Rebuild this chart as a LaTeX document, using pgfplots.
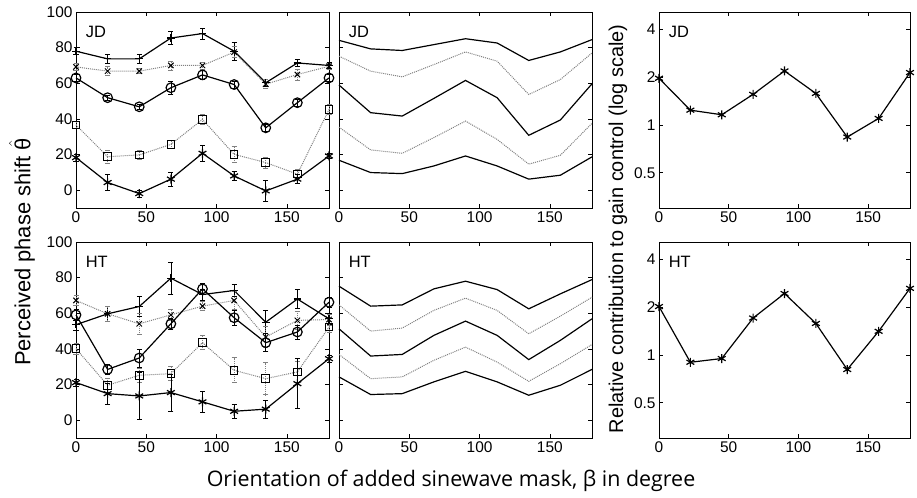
\documentclass[border=0pt]{standalone}
\usepackage{fontspec}
\setmainfont{Liberation Sans}
\newfontfamily\xlabfont{Open Sans}
\usepackage{pgfplots}
\pgfplotsset{compat=1.18}

% ---------- measured phase shifts (x, mean, s.e.) ----------
\pgfplotstableread{
x     a     ea   b     eb   c     ec   d     ed   e     ee
0     78    2    69.2  2    63    2    36.6  2    18.3  2
22.5  73.7  2.5  66.8  2.5  51.9  1.5  18.8  3.5  4.3   4.5
45    73.7  2.5  66.8  1.5  46.8  1.5  19.8  2.5  -1.9  2
67.5  85.4  3.5  70    2.5  57.5  3.5  25.7  2.5  6.2   4
90    87.9  3    70    2    64.7  2.5  39.7  3    20.7  4.5
112.5 78    5    77.5  3    59.3  2    20.1  4.5  8     2.5
135   60.3  2    59.5  2.5  35    2    15.5  3    -0.4  6
157.5 71.4  2    64.9  3    49.1  2    9     2.5  6.2   2.5
180   70    1.5  69.5  1.5  63    2    45.3  3    19.2  1.5
}\dataJD
\pgfplotstableread{
x     a     ea   b     eb   c     ec   d     ed   e     ee
0     53.6  3    67.2  3    59.1  3    40.1  3    21.1  2
22.5  59.7  4    59.7  4    28.5  3    19.6  4    14.9  6
45    63.8  5.5  54.1  6    34.9  5    25.2  4    13.6  13
67.5  79.7  9    59.1  3    54.1  3    26.1  4    15.5  10.5
90    70.5  3    64    2.5  73.7  3    43.5  4    10.3  6
112.5 72.8  3.5  67.2  5    57.5  4    28    7    5     4
135   55    6.5  46.7  6    43.5  5    23.3  9    6.2   5
157.5 68    5.5  56    5    49.5  4    27.1  6    20.5  14
180   56.9  3    56.5  3    66.2  3    52.2  3    34.5  2
}\dataHT

% ---------- model predictions ----------
\pgfplotstableread{
x     a     b     c     d     e
0     84.1  75.2  59    35.4  16.8
22.5  79.3  66.8  43.5  22.6  9.9
45    78.4  63.6  41.6  20.7  9.3
67.5  81.7  70.5  51.5  29.5  13.6
90    85    77.6  61.6  38.8  19.2
112.5 82.6  72.4  51.9  28.5  13.6
135   72.8  53.7  30.8  14.6  6.2
157.5 77.6  62.1  39.4  19.6  8.4
180   84.5  77    59.7  37.5  18.7
}\modelJD
\pgfplotstableread{
x     a     b     c     d     e
0     75.2  64.7  51.3  36.9  24.3
22.5  64    50    36    23.3  14.4
45    64.7  51.7  36.9  24.3  14.9
67.5  73.7  61.6  47.6  33.6  21.5
90    78    68.5  55.6  41    27.4
112.5 73.3  61.6  47.6  32.6  21.5
135   62.5  48.5  34    21.8  14
157.5 70.9  58.4  44.8  31.7  19.6
180   78.9  69    56.9  42.5  28.5
}\modelHT

% ---------- gain-control weights ----------
\pgfplotstableread{
x     jd    ht
0     1.97  2.02
22.5  1.24  0.90
45    1.16  0.95
67.5  1.56  1.71
90    2.19  2.44
112.5 1.58  1.58
135   0.84  0.81
157.5 1.10  1.41
180   2.14  2.63
}\gainData

\tikzset{plab/.style={anchor=west, font=\fontsize{16.5}{16.5}\selectfont}}
\pgfplotsset{
  panel/.style={
    scale only axis, width=253bp, height=196bp,
    xmin=0, xmax=180, xtick={0,50,100,150},
    tick align=inside, major tick length=4bp,
    xtick pos=both, ytick pos=both,
    axis line style={line width=0.9pt},
    tick style={line width=0.6pt, black},
    ticklabel style={font=\fontsize{15.5}{15.5}\selectfont},
    /pgf/number format/assume math mode=true,
    clip=false,
  },
  phasepanel/.style={panel, ymin=-10, ymax=100, ytick={0,20,...,100}},
  weightpanel/.style={panel, width=251bp,
    ymin=0.3, ymax=5.15, ytick={0.5,1,2,4}, yticklabels={0.5,1,2,4}},
  solidS/.style={black, line width=1.2pt},
  dotS/.style={gray, line width=1.0pt, densely dotted},
  ebar/.style={error bars/.cd, y dir=both, y explicit,
    error mark options={rotate=90, mark size=2.5bp, line width=0.7pt},
    error bar style={line width=0.7pt}},
}

\newcommand{\phaseplots}[1]{%
  \addplot[solidS, mark=+, mark size=3.8bp, mark options={solid, black}, ebar]
    table[x=x, y=a, y error=ea] {#1};
  \addplot[dotS, mark=x, mark size=3.8bp, mark options={solid, black}, ebar]
    table[x=x, y=b, y error=eb] {#1};
  \addplot[solidS, mark=o, mark size=4.8bp, mark options={solid, black}, ebar]
    table[x=x, y=c, y error=ec] {#1};
  \addplot[dotS, mark=square, mark size=3.8bp, mark options={solid, black}, ebar]
    table[x=x, y=d, y error=ed] {#1};
  \addplot[solidS, mark=asterisk, mark size=4.5bp, mark options={solid, black}, ebar]
    table[x=x, y=e, y error=ee] {#1};
}
\newcommand{\modelplots}[1]{%
  \addplot[solidS] table[x=x, y=a] {#1};
  \addplot[dotS]   table[x=x, y=b] {#1};
  \addplot[solidS] table[x=x, y=c] {#1};
  \addplot[dotS]   table[x=x, y=d] {#1};
  \addplot[solidS] table[x=x, y=e] {#1};
}

\begin{document}
\begin{tikzpicture}
\useasboundingbox (0bp,0bp) rectangle (917bp,-498bp);

% ---- subject JD ----
\begin{axis}[phasepanel, at={(76bp,-12bp)}, anchor=north west]
  \phaseplots{\dataJD}
  \node[plab] at (rel axis cs:0.025,0.9) {JD};
\end{axis}
\begin{axis}[phasepanel, at={(339bp,-12bp)}, anchor=north west, yticklabels={}]
  \modelplots{\modelJD}
  \node[plab] at (rel axis cs:0.025,0.9) {JD};
\end{axis}
\begin{semilogyaxis}[weightpanel, log basis y=2, at={(659bp,-12bp)}, anchor=north west]
  \addplot[solidS, mark=asterisk, mark size=4.5bp] table[x=x, y=jd] {\gainData};
  \node[plab] at (rel axis cs:0.025,0.9) {JD};
\end{semilogyaxis}

% ---- subject HT ----
\begin{axis}[phasepanel, at={(76bp,-242bp)}, anchor=north west]
  \phaseplots{\dataHT}
  \node[plab] at (rel axis cs:0.025,0.9) {HT};
\end{axis}
\begin{axis}[phasepanel, at={(339bp,-242bp)}, anchor=north west, yticklabels={}]
  \modelplots{\modelHT}
  \node[plab] at (rel axis cs:0.025,0.9) {HT};
\end{axis}
\begin{semilogyaxis}[weightpanel, log basis y=2, at={(659bp,-242bp)}, anchor=north west]
  \addplot[solidS, mark=asterisk, mark size=4.5bp] table[x=x, y=ht] {\gainData};
  \node[plab] at (rel axis cs:0.025,0.9) {HT};
\end{semilogyaxis}

% ---- shared labels ----
\node[rotate=90, font=\fontsize{22}{22}\selectfont] at (22bp,-252bp)
  {Perceived phase shift $\hat{\hbox{θ}}$};
\node[rotate=90, font=\fontsize{20}{20}\selectfont] at (618bp,-229bp)
  {Relative contribution to gain control (log scale)};
\node[font=\xlabfont\fontsize{21.5}{21.5}\selectfont] at (451bp,-481bp)
  {Orientation of added sinewave mask, β in degree};
\end{tikzpicture}
\end{document}
